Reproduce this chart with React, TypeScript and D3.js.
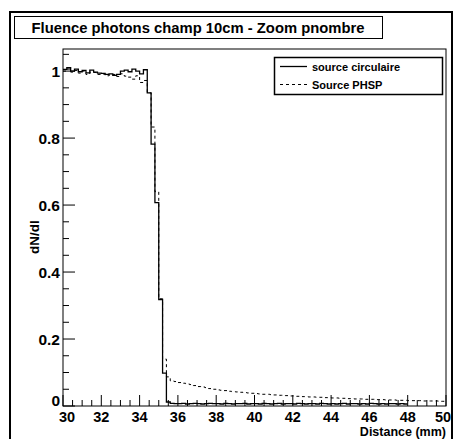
import { useEffect, useRef } from 'react';
import { select, scaleLinear, line, curveStepAfter, range } from 'd3';

const title = 'Fluence photons champ 10cm - Zoom pnombre';
const xLabel = 'Distance (mm)';
const yLabel = 'dN/dl';
const legendLabels = ['source circulaire', 'Source PHSP'];

// histogram binning (mm)
const binStart = 30;
const binWidth = 0.2;

const xTicks = [30, 32, 34, 36, 38, 40, 42, 44, 46, 48, 50];
const yTicks = [0, 0.2, 0.4, 0.6, 0.8, 1];

const circulaire = [
  1.005, 1.01, 1.0, 1.006, 0.998, 1.002, 0.995, 1.003, 0.997, 0.994, 0.993,
  0.99, 0.992, 0.987, 0.99, 1.0, 1.003, 0.998, 1.006, 1.0, 0.992, 1.004,
  0.935, 0.782, 0.607, 0.318, 0.098, 0.012,
  0.008, 0.007, 0.007, 0.008, 0.006, 0.007, 0.008, 0.007, 0.006, 0.007,
  0.008, 0.007, 0.007, 0.006, 0.008, 0.007, 0.006, 0.007, 0.007, 0.008,
  0.006, 0.007, 0.007, 0.006, 0.008, 0.007, 0.006, 0.007, 0.008, 0.006,
  0.007, 0.007, 0.006, 0.008, 0.007, 0.006, 0.007, 0.007, 0.006, 0.008,
  0.007, 0.006, 0.007, 0.006, 0.007, 0.008, 0.006, 0.007, 0.007, 0.006,
  0.007, 0.006, 0.008, 0.007, 0.006, 0.007, 0.006, 0.007, 0.007, 0.006,
  0.007, 0.006,
];

const phsp = [
  1.0, 1.006, 0.997, 1.002, 0.994, 1.0, 0.99, 0.997, 0.996, 0.99, 0.991,
  0.986, 0.988, 0.99, 0.984, 0.992, 0.985, 0.982, 0.976, 0.986, 0.966, 0.972,
  0.935, 0.833, 0.64, 0.32, 0.14, 0.087,
  0.075, 0.073, 0.07, 0.068, 0.066, 0.064, 0.061, 0.058, 0.057, 0.055,
  0.052, 0.05, 0.048, 0.047, 0.046, 0.044, 0.043, 0.042, 0.041, 0.04,
  0.039, 0.038, 0.037, 0.036, 0.035, 0.035, 0.034, 0.033, 0.032, 0.032,
  0.031, 0.03, 0.03, 0.029, 0.028, 0.028, 0.027, 0.027, 0.026, 0.026,
  0.025, 0.025, 0.024, 0.024, 0.023, 0.023, 0.022, 0.022, 0.021, 0.021,
  0.021, 0.02, 0.02, 0.02, 0.019, 0.019, 0.018, 0.018, 0.018, 0.017,
  0.017, 0.017, 0.016, 0.016, 0.016, 0.016, 0.015, 0.015, 0.015, 0.015,
  0.014, 0.014,
];

const font = '"Liberation Sans", Arial, sans-serif';

const Chart = () => {
  const svgRef = useRef(null);

  useEffect(() => {
    const svg = select(svgRef.current);
    svg.selectAll('*').remove();

    const left = 63;
    const right = 446;
    const top = 49;
    const bottom = 406;

    const xScale = scaleLinear().domain([30, 50]).range([left, right]);
    const yScale = scaleLinear().domain([0, 1.066]).range([bottom, top]);

    // canvas border + title box
    svg
      .append('rect')
      .attr('x', 10)
      .attr('y', 12)
      .attr('width', 442)
      .attr('height', 440)
      .attr('fill', 'white')
      .attr('stroke', 'black')
      .attr('stroke-width', 2);

    svg
      .append('rect')
      .attr('x', 14.5)
      .attr('y', 16.5)
      .attr('width', 368)
      .attr('height', 22)
      .attr('fill', 'white')
      .attr('stroke', 'black')
      .attr('stroke-width', 1);

    svg
      .append('text')
      .attr('x', 198)
      .attr('y', 32.5)
      .attr('text-anchor', 'middle')
      .attr('font-family', font)
      .attr('font-weight', 'bold')
      .attr('font-size', 14.8)
      .text(title);

    // frame
    svg
      .append('rect')
      .attr('x', left)
      .attr('y', top)
      .attr('width', right - left)
      .attr('height', bottom - top)
      .attr('fill', 'none')
      .attr('stroke', 'black')
      .attr('stroke-width', 1);

    // histograms
    const toPoints = (values) => {
      const pts = values.map((v, i) => [binStart + i * binWidth, v]);
      pts.push([binStart + values.length * binWidth, values[values.length - 1]]);
      return pts;
    };
    const stepLine = line()
      .x((d) => xScale(d[0]))
      .y((d) => yScale(d[1]))
      .curve(curveStepAfter);

    svg
      .append('path')
      .attr('d', stepLine(toPoints(phsp)))
      .attr('fill', 'none')
      .attr('stroke', 'black')
      .attr('stroke-width', 1)
      .attr('stroke-dasharray', '3,3');

    svg
      .append('path')
      .attr('d', stepLine(toPoints(circulaire)))
      .attr('fill', 'none')
      .attr('stroke', 'black')
      .attr('stroke-width', 1.3);

    // x axis ticks
    const xMinor = range(30, 50.01, 0.5);
    svg
      .selectAll('.x-tick')
      .data(xMinor)
      .join('line')
      .attr('class', 'x-tick')
      .attr('x1', (d) => xScale(d))
      .attr('x2', (d) => xScale(d))
      .attr('y1', bottom)
      .attr('y2', (d) => (Math.abs(d % 2) < 1e-6 ? bottom - 11 : bottom - 6))
      .attr('stroke', 'black');

    svg
      .selectAll('.x-label')
      .data(xTicks)
      .join('text')
      .attr('class', 'x-label')
      .attr('x', (d) => Math.min(Math.max(xScale(d), 67), 443))
      .attr('y', 421.5)
      .attr('text-anchor', 'middle')
      .attr('font-family', font)
      .attr('font-weight', 'bold')
      .attr('font-size', 14.5)
      .text((d) => d);

    // y axis ticks
    const yMinor = range(0, 1.0501, 0.05);
    svg
      .selectAll('.y-tick')
      .data(yMinor)
      .join('line')
      .attr('class', 'y-tick')
      .attr('y1', (d) => yScale(d))
      .attr('y2', (d) => yScale(d))
      .attr('x1', left)
      .attr('x2', (d) =>
        Math.abs(Math.round(d * 100) % 20) < 1e-6 ? left + 12 : left + 6
      )
      .attr('stroke', 'black');

    svg
      .selectAll('.y-label')
      .data(yTicks)
      .join('text')
      .attr('class', 'y-label')
      .attr('x', left - 3)
      .attr('y', (d) => yScale(d) + (d === 0 ? 0 : 5.5))
      .attr('text-anchor', 'end')
      .attr('font-family', font)
      .attr('font-weight', 'bold')
      .attr('font-size', 15.5)
      .text((d) => d);

    // axis titles
    svg
      .append('text')
      .attr('x', right)
      .attr('y', 436)
      .attr('text-anchor', 'end')
      .attr('font-family', font)
      .attr('font-weight', 'bold')
      .attr('font-size', 12.5)
      .text(xLabel);

    svg
      .append('text')
      .attr('transform', 'translate(39, 237) rotate(-90)')
      .attr('text-anchor', 'middle')
      .attr('font-family', font)
      .attr('font-weight', 'bold')
      .attr('font-size', 13.5)
      .text(yLabel);

    // legend
    const legend = svg.append('g');
    legend
      .append('rect')
      .attr('x', 274.5)
      .attr('y', 57.5)
      .attr('width', 168)
      .attr('height', 37)
      .attr('fill', 'white')
      .attr('stroke', 'black')
      .attr('stroke-width', 1.5);

    legendLabels.forEach((label, i) => {
      const y = 66.5 + i * 18;
      legend
        .append('line')
        .attr('x1', 280)
        .attr('x2', 307)
        .attr('y1', y)
        .attr('y2', y)
        .attr('stroke', 'black')
        .attr('stroke-width', i === 0 ? 1.3 : 1)
        .attr('stroke-dasharray', i === 0 ? null : '3,3');
      legend
        .append('text')
        .attr('x', 312)
        .attr('y', y + 4)
        .attr('font-family', font)
        .attr('font-weight', 'bold')
        .attr('font-size', 11)
        .text(label);
    });
  }, []);

  return (
    <svg
      ref={svgRef}
      width={454}
      height={439}
      style={{ position: 'absolute', left: 0, top: 0, background: 'white' }}
    />
  );
};

export default function App() {
  return <Chart />;
}
